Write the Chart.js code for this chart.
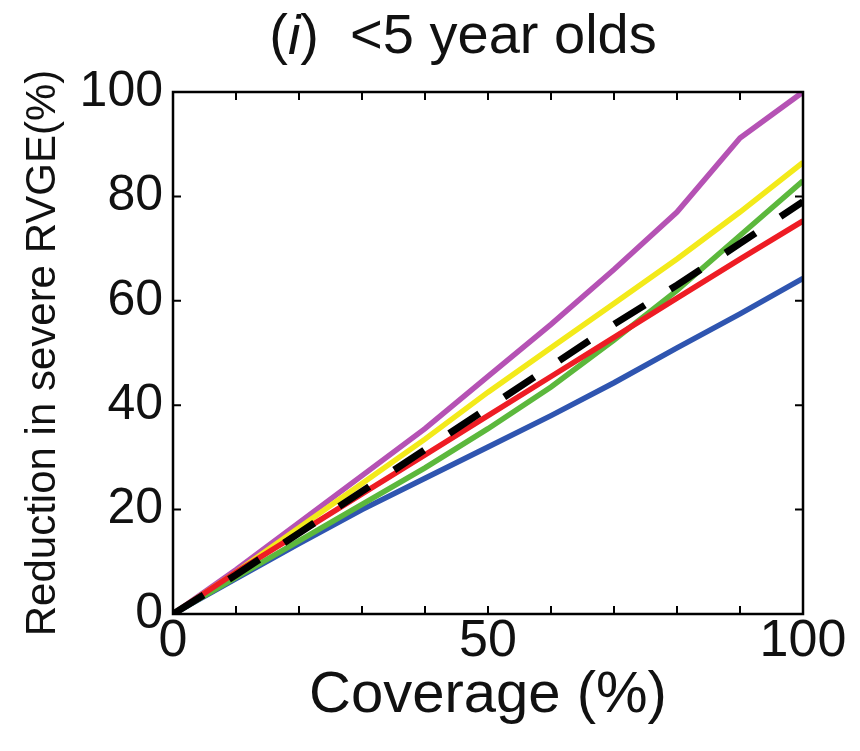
<!DOCTYPE html>
<html>
<head>
<meta charset="utf-8">
<script src="https://cdn.jsdelivr.net/npm/chart.js@4.4.0/dist/chart.umd.min.js"></script>
<style>
  body { margin: 0; background: #fff; }
  #wrap { width: 860px; height: 751px; }
</style>
</head>
<body>
<div id="wrap"><canvas id="rvge"></canvas></div>
<script>
const coverage = [0, 10, 20, 30, 40, 50, 60, 70, 80, 90, 100];

const overall = [0, 7.5, 15.5, 23.5, 31.5, 39.5, 47.5, 55.5, 63, 71, 79];
const redLine = [0, 8, 15.5, 23, 30.5, 38, 45.5, 53, 60.5, 68, 75.3];
const greenLine = [0, 7, 14, 21, 28, 35.5, 43.5, 52.5, 62, 72.5, 83];
const yellowLine = [0, 8, 16.5, 25, 33.5, 42.5, 51, 59.5, 68, 77, 86.5];
const purpleLine = [0, 8.5, 17.5, 26.5, 35.5, 45.5, 55.5, 66, 77, 91.2, 100];
const blueLine = [0, 6.8, 13.5, 20, 26, 32, 38, 44.3, 51, 57.5, 64.3];

const xTickLabels = [0, 50, 100];
const yTicks = [0, 20, 40, 60, 80, 100];

const FONT = "'Liberation Sans', Arial, Helvetica, sans-serif";

function pts(vals) {
  return coverage.map((c, i) => ({ x: c, y: vals[i] }));
}

function line(vals, color, width) {
  return {
    data: pts(vals),
    borderColor: color,
    borderWidth: width || 5.5,
    pointRadius: 0,
    tension: 0,
    fill: false
  };
}

// box round the plot and inward ticks on all four sides
const frame = {
  id: 'frame',
  afterDatasetsDraw(chart) {
    const { ctx, chartArea: a, scales: { x, y } } = chart;
    ctx.save();
    ctx.strokeStyle = '#000';
    ctx.lineWidth = 2;
    ctx.beginPath();
    x.ticks.forEach(t => {
      const px = x.getPixelForValue(t.value);
      ctx.moveTo(px, a.bottom); ctx.lineTo(px, a.bottom - 8);
      ctx.moveTo(px, a.top); ctx.lineTo(px, a.top + 8);
    });
    y.ticks.forEach(t => {
      const py = y.getPixelForValue(t.value);
      ctx.moveTo(a.left, py); ctx.lineTo(a.left + 8, py);
      ctx.moveTo(a.right, py); ctx.lineTo(a.right - 8, py);
    });
    ctx.stroke();
    ctx.lineWidth = 2.5;
    ctx.strokeRect(a.left, a.top, a.right - a.left, a.bottom - a.top);
    ctx.restore();
  }
};

// panel title with the italic "i"
const panelTitle = {
  id: 'panelTitle',
  afterDraw(chart) {
    const ctx = chart.ctx;
    const parts = [['(', ''], ['i', 'italic '], [')  <5 year olds', '']];
    const size = 56;
    ctx.save();
    ctx.fillStyle = '#111';
    ctx.textBaseline = 'middle';
    let total = 0;
    parts.forEach(p => { ctx.font = p[1] + size + 'px ' + FONT; total += ctx.measureText(p[0]).width; });
    let cx = 463 - total / 2;
    parts.forEach(p => {
      ctx.font = p[1] + size + 'px ' + FONT;
      ctx.fillText(p[0], cx, 38);
      cx += ctx.measureText(p[0]).width;
    });
    ctx.restore();
  }
};

new Chart(document.getElementById('rvge'), {
  type: 'line',
  data: {
    datasets: [
      Object.assign(line(overall, '#000', 7), { borderDash: [36, 30] }),
      line(redLine, '#ee1c24'),
      line(greenLine, '#5cb83c'),
      line(yellowLine, '#f3ea1a'),
      line(purpleLine, '#b552b4'),
      line(blueLine, '#2f55b0')
    ]
  },
  options: {
    responsive: true,
    maintainAspectRatio: false,
    animation: false,
    layout: { padding: { top: 92, right: 57, left: 0, bottom: 0 } },
    plugins: {
      legend: { display: false },
      tooltip: { enabled: false }
    },
    scales: {
      x: {
        type: 'linear',
        min: 0,
        max: 100,
        afterFit: s => { s.height = 137; },
        border: { display: false },
        grid: { display: false, drawTicks: false },
        ticks: {
          stepSize: 10,
          autoSkip: false,
          maxRotation: 0,
          padding: -4,
          color: '#111',
          font: { family: FONT, size: 52 },
          callback: v => xTickLabels.includes(v) ? String(v) : ''
        },
        title: {
          display: true,
          text: 'Coverage (%)',
          color: '#111',
          font: { family: FONT, size: 58 },
          padding: { top: 0, bottom: 20 }
        }
      },
      y: {
        min: 0,
        max: 100,
        afterFit: s => { s.width = 173; },
        border: { display: false },
        grid: { display: false, drawTicks: false },
        ticks: {
          stepSize: 20,
          padding: 10,
          color: '#111',
          font: { family: FONT, size: 50 },
          callback: v => yTicks.includes(v) ? String(v) : ''
        },
        title: {
          display: true,
          text: 'Reduction in severe RVGE(%)',
          color: '#111',
          font: { family: FONT, size: 42 },
          padding: { top: 18, bottom: 0 }
        }
      }
    }
  },
  plugins: [frame, panelTitle]
});
</script>
</body>
</html>
